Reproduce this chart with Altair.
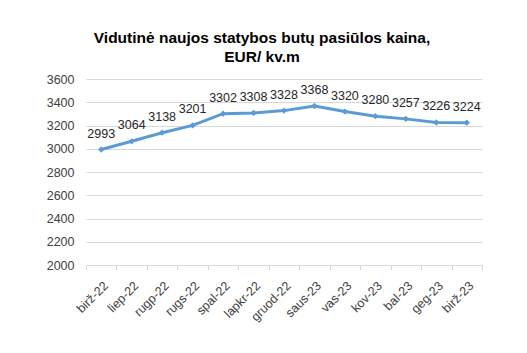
import altair as alt
import pandas as pd

months = ["birž-22", "liep-22", "rugp-22", "rugs-22", "spal-22", "lapkr-22", "gruod-22",
          "saus-23", "vas-23", "kov-23", "bal-23", "geg-23", "birž-23"]
prices = [2993, 3064, 3138, 3201, 3302, 3308, 3328, 3368, 3320, 3280, 3257, 3226, 3224]

df = pd.DataFrame({"month": months, "price": prices})
FONT = "Liberation Sans"
BLUE = "#5b9bd5"

x = alt.X("month:N", sort=months, bandPosition=0.5,
          scale=alt.Scale(type="band", paddingInner=0, paddingOuter=0),
          axis=alt.Axis(title=None, labelAngle=-45, labelFontSize=12.5, labelColor="#404040",
                        labelFont=FONT, tickBand="extent", tickColor="#d9d9d9", tickSize=5,
                        domainColor="#d9d9d9", domainWidth=1, grid=False, labelPadding=9))
y = alt.Y("price:Q", scale=alt.Scale(domain=[2000, 3600], nice=False, zero=False),
          axis=alt.Axis(title=None, values=list(range(2000, 3601, 200)), format="d",
                        labelFontSize=12.5, labelColor="#404040", labelFont=FONT, ticks=False,
                        domain=False, gridColor="#d9d9d9", labelPadding=12))

base = alt.Chart(df).encode(x=x, y=y)
line = base.mark_line(color=BLUE, strokeWidth=3)
pts = base.mark_point(shape="diamond", filled=True, color=BLUE, size=40, opacity=1)
labels = base.mark_text(dy=-16, fontSize=12.5, font=FONT, color="#262626").encode(
    text=alt.Text("price:Q", format="d"))

chart = alt.layer(line, pts, labels).properties(
    width=396, height=186,
    title=alt.TitleParams(text=["Vidutinė naujos statybos butų pasiūlos kaina,", "EUR/ kv.m"],
                          font=FONT, fontSize=15.5, fontWeight="bold", color="#000000",
                          anchor="middle", dx=-22, offset=8, lineHeight=19),
    autosize=alt.AutoSizeParams(type="none"),
    padding={"left": 86, "top": 79, "right": 45, "bottom": 88},
).configure_view(stroke=None)

chart.save("out.html", embed_options={"renderer": "svg", "actions": False})
